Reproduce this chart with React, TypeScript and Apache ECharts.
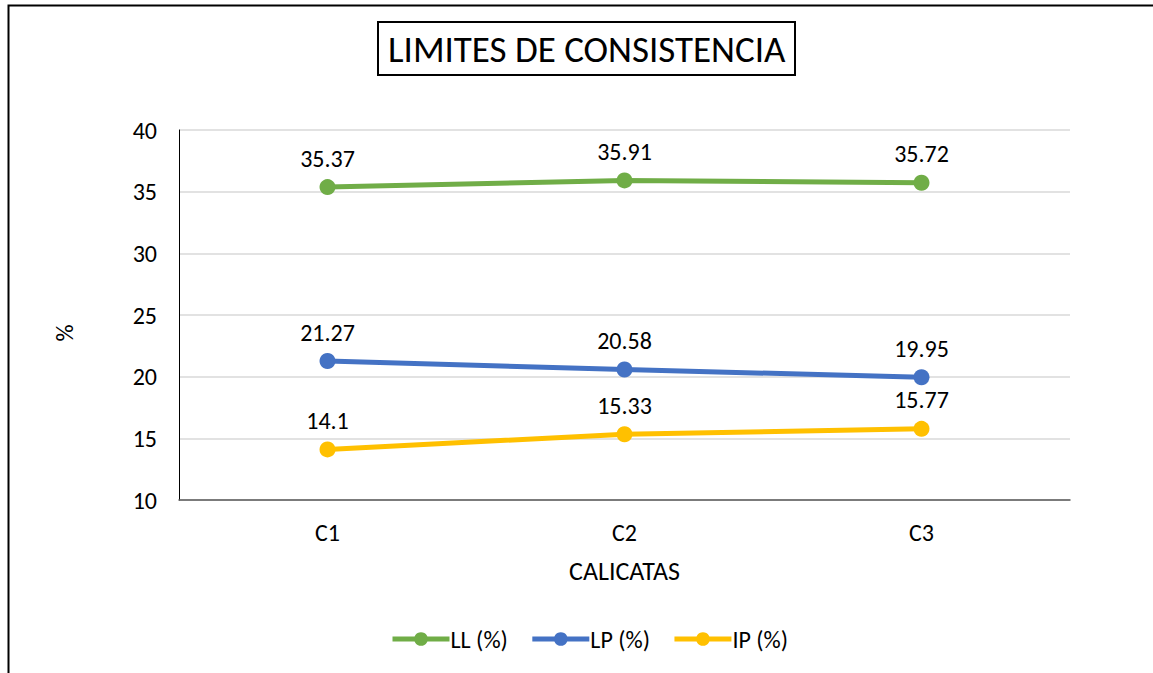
import React, { useEffect, useRef } from "react";
import * as echarts from "echarts";

const categories = ["C1", "C2", "C3"];
const llValues = [35.37, 35.91, 35.72];
const lpValues = [21.27, 20.58, 19.95];
const ipValues = [14.1, 15.33, 15.77];
const seriesNames = ["LL (%)", "LP (%)", "IP (%)"];
const seriesColors = ["#70AD47", "#4472C4", "#FFC000"];

const FONT = "Carlito, Calibri, Lato, sans-serif";

export default function App() {
  const ref = useRef<HTMLDivElement>(null);
  useEffect(() => {
    if (!ref.current) return;
    const chart = echarts.init(ref.current, undefined, { renderer: "svg" });
    const allValues = [llValues, lpValues, ipValues];
    chart.setOption({
      animation: false,
      backgroundColor: "#ffffff",
      textStyle: { fontFamily: FONT },
      graphic: [
        {
          type: "rect",
          shape: { x: 8.5, y: 5.5, width: 1300, height: 800 },
          style: { fill: "none", stroke: "#000", lineWidth: 2 },
          silent: true,
        },
        {
          type: "text",
          x: 64,
          y: 333,
          rotation: Math.PI / 2,
          style: {
            text: "%",
            fontFamily: FONT,
            fontSize: 24,
            fill: "#000",
            align: "center",
            verticalAlign: "middle",
          },
          silent: true,
        },
      ],
      title: {
        text: "LIMITES DE CONSISTENCIA",
        left: 378,
        top: 22,
        padding: [9, 10, 7, 10],
        borderColor: "#000",
        borderWidth: 2,
        textStyle: { fontFamily: FONT, fontSize: 37, fontWeight: "normal", color: "#000" },
      },
      legend: {
        left: 390,
        top: 627,
        padding: 0,
        itemWidth: 57,
        itemHeight: 17,
        itemGap: 22,
        lineStyle: { width: 5 },
        textStyle: { fontFamily: FONT, fontSize: 24, color: "#000", padding: [0, 0, 0, -4] },
        data: seriesNames,
      },
      grid: { left: 179, right: 83, top: 130, bottom: 173 },
      xAxis: {
        type: "category",
        data: categories,
        boundaryGap: true,
        name: "CALICATAS",
        nameLocation: "middle",
        nameGap: 58,
        nameTextStyle: { fontFamily: FONT, fontSize: 26, color: "#000" },
        axisLine: { lineStyle: { color: "#595959", width: 1.5 } },
        axisTick: { show: false },
        axisLabel: { fontFamily: FONT, fontSize: 24, color: "#000", margin: 20 },
      },
      yAxis: {
        type: "value",
        min: 10,
        max: 40,
        interval: 5,
        axisLine: { show: true, lineStyle: { color: "#000", width: 1 } },
        axisTick: { show: false },
        axisLabel: { fontFamily: FONT, fontSize: 24, color: "#000", margin: 22 },
        splitLine: { lineStyle: { color: "#d9d9d9", width: 1.5 } },
      },
      series: seriesNames.map((name, i) => ({
        name,
        type: "line",
        data: allValues[i],
        color: seriesColors[i],
        symbol: "circle",
        symbolSize: 16,
        lineStyle: { width: 5, color: seriesColors[i] },
        itemStyle: { color: seriesColors[i] },
        label: {
          show: true,
          position: "top",
          distance: 9,
          fontFamily: FONT,
          fontSize: 24,
          color: "#000",
        },
      })),
    });
    return () => chart.dispose();
  }, []);
  return (
    <div
      ref={ref}
      style={{ position: "absolute", left: 0, top: 0, width: 1153, height: 673 }}
    />
  );
}
